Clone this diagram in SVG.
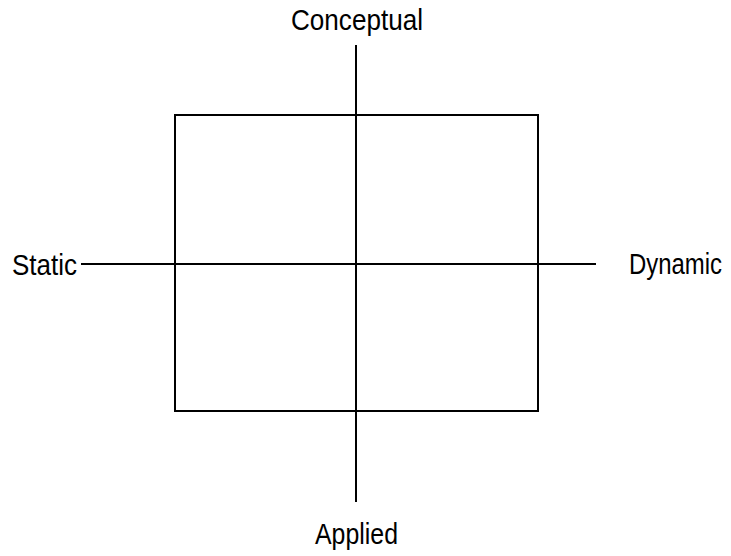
<svg xmlns="http://www.w3.org/2000/svg" width="731" height="556" viewBox="0 0 731 556">
<style>
text{font-family:"Liberation Sans",Arial,sans-serif;font-size:29px;fill:#000}
.ln{stroke:#000;stroke-width:2;fill:none}
</style>
<rect width="731" height="556" fill="#fff"/>
<g id="box"><rect class="ln" x="175" y="115" width="363" height="296"/></g>
<g id="connectors">
<line class="ln" x1="356" y1="45" x2="356" y2="502"/>
<line class="ln" x1="81" y1="264" x2="596" y2="264"/>
</g>
<g id="conceptual"><text x="291" y="30" textLength="132" lengthAdjust="spacingAndGlyphs">Conceptual</text></g>
<g id="static"><text x="12" y="275" textLength="65" lengthAdjust="spacingAndGlyphs">Static</text></g>
<g id="dynamic"><text x="629" y="274" textLength="93" lengthAdjust="spacingAndGlyphs">Dynamic</text></g>
<g id="applied"><text x="315" y="544" textLength="83" lengthAdjust="spacingAndGlyphs">Applied</text></g>
</svg>
